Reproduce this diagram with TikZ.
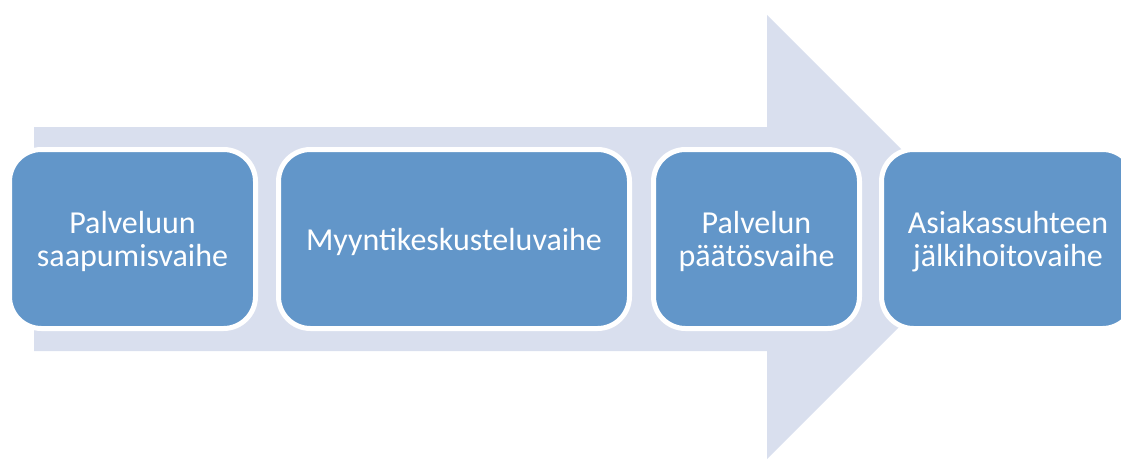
\documentclass[tikz,border=0pt]{standalone}
\usepackage{fontspec}
\setmainfont{Carlito}
\definecolor{arrowfill}{RGB}{217,223,238}
\definecolor{boxfill}{RGB}{98,150,201}
\begin{document}
\begin{tikzpicture}[x=1pt,y=1pt,
  stagebox/.style={draw=white, line width=5pt, fill=boxfill, rounded corners=32pt,
    inner sep=0pt, align=center, text=white, text depth=0pt,
    font=\fontsize{32}{33}\selectfont, minimum height=179pt}]
\useasboundingbox (0,0) rectangle (1121,459);
\clip (0,0) rectangle (1121,459);
% big arrow
\fill[arrowfill] (34,459-127) -- (767,459-127) -- (767,459-15) -- (989,459-237)
  -- (767,0) -- (767,459-351) -- (34,459-351) -- cycle;
% stages
\node[stagebox, minimum width=246pt] (b1) at (132.5,459-239) {Palveluun\\saapumisvaihe};
\node[stagebox, minimum width=351pt] (b2) at (454,459-239) {Myyntikeskusteluvaihe};
\node[stagebox, minimum width=206pt] (b3) at (756.5,459-239) {Palvelun\\päätösvaihe};
\node[stagebox, minimum width=253pt] (b4) at (1008,459-239) {Asiakassuhteen\\jälkihoitovaihe};
\end{tikzpicture}
\end{document}
